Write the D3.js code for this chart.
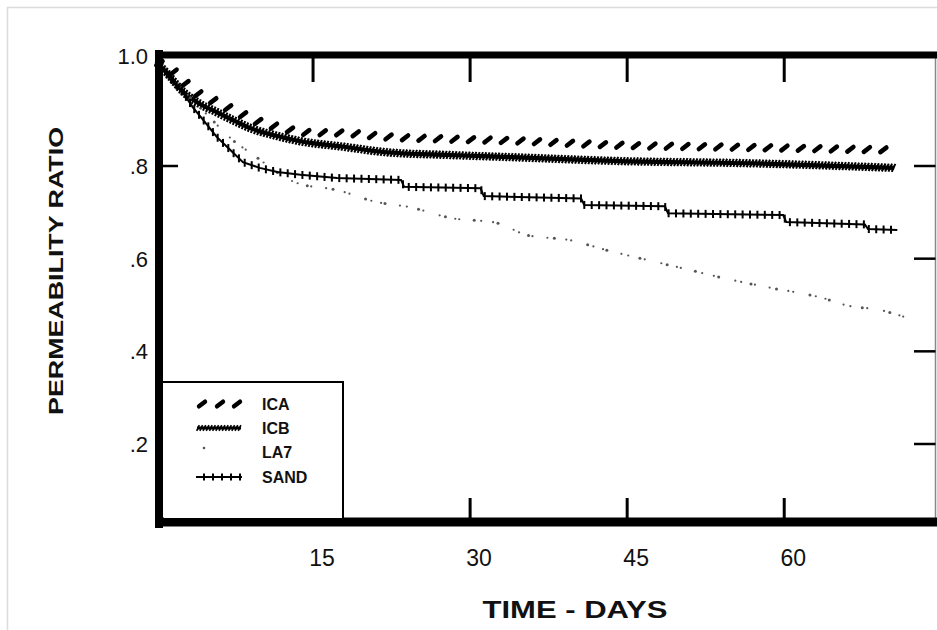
<!DOCTYPE html>
<html>
<head>
<meta charset="utf-8">
<script src="https://cdn.jsdelivr.net/npm/d3@7"></script>
<style>
  html, body { margin: 0; padding: 0; background: #fff; }
  svg { display: block; }
  text { fill: #111; }
</style>
</head>
<body>
<svg id="chart" width="937" height="630"></svg>
<script>
// Permeability ratio vs. time for four filter materials
const xTicks = [15, 30, 45, 60];
const yTicks = [0.2, 0.4, 0.6, 0.8, 1.0];
const yTickLabels = [".2", ".4", ".6", ".8", "1.0"];
const seriesNames = ["ICA", "ICB", "LA7", "SAND"];

const icaDays   = [0, 1.8, 3.5, 5.8, 7.8, 9.9, 12.1, 14.2, 17.9, 22, 28, 34, 44, 56, 70.5];
const icaRatio  = [0.99, 0.969, 0.938, 0.916, 0.898, 0.880, 0.869, 0.861, 0.860, 0.853, 0.849, 0.846, 0.838, 0.834, 0.829];

const icbDays   = [0, 1, 2.6, 4, 5.8, 7.5, 9, 11.5, 13.8, 17.9, 22, 28, 34, 44.3, 56.7, 70.5];
const icbRatio  = [0.99, 0.97, 0.935, 0.915, 0.898, 0.882, 0.869, 0.855, 0.845, 0.835, 0.825, 0.820, 0.816, 0.809, 0.805, 0.796];

const la7Days   = [0, 2.5, 5.2, 7.1, 9.3, 13.5, 17.3, 21.1, 24.3, 28.1, 32.6, 35.4, 39.5, 43.1, 47.9, 50.7, 54.6, 58.5, 63.7, 66.0, 69.2, 71.5];
const la7Ratio  = [0.99, 0.94, 0.887, 0.851, 0.820, 0.763, 0.748, 0.722, 0.711, 0.688, 0.677, 0.651, 0.640, 0.618, 0.592, 0.577, 0.556, 0.538, 0.515, 0.499, 0.489, 0.474];

const sandDays  = [0, 1.3, 2.6, 3.5, 4.5, 5.8, 7.1, 8.3, 9.9, 11.6, 13.8, 17.3, 23.4, 23.7, 31.0, 31.3, 40.6, 40.9, 48.6, 48.9, 59.9, 60.2, 67.7, 68.0, 70.8];
const sandRatio = [0.99, 0.96, 0.933, 0.907, 0.884, 0.853, 0.829, 0.807, 0.796, 0.787, 0.781, 0.774, 0.770, 0.755, 0.752, 0.735, 0.730, 0.716, 0.713, 0.698, 0.694, 0.679, 0.674, 0.664, 0.662];

const svg = d3.select("#chart");
svg.append("rect").attr("width", 937).attr("height", 630).attr("fill", "#fff");

// Scales: the ratio axis is stretched between .8 and 1.0 as on the original sheet
const x = d3.scaleLinear().domain([0, 74.4]).range([156, 935]);
const y = d3.scaleLinear().domain([0.2, 0.8, 1.0]).range([444, 166, 56]);

const plotLeft = 159, plotTop = 55, plotBottom = 522, plotRight = 935.5;

// faint page border
svg.append("path").attr("d", "M7.5,630 V7.5 H937").attr("fill", "none")
  .attr("stroke", "#dcdcdc").attr("stroke-width", 1.5);

const frame = svg.append("g").attr("stroke", "#000").attr("fill", "none");
frame.append("line").attr("x1", plotRight).attr("x2", plotRight).attr("y1", plotTop).attr("y2", plotBottom)
  .attr("stroke", "#888").attr("stroke-width", 1.5);
frame.append("line").attr("x1", plotLeft).attr("x2", 937).attr("y1", plotTop).attr("y2", plotTop).attr("stroke-width", 7);
frame.append("line").attr("x1", 155).attr("x2", 937).attr("y1", plotBottom).attr("y2", plotBottom).attr("stroke-width", 9);
frame.append("line").attr("x1", plotLeft).attr("x2", plotLeft).attr("y1", 50).attr("y2", 528).attr("stroke-width", 8);

// ticks
frame.selectAll(".tt").data(xTicks).join("line")
  .attr("x1", d => x(d)).attr("x2", d => x(d)).attr("y1", plotTop).attr("y2", plotTop + 27).attr("stroke-width", 3);
frame.selectAll(".bt").data(xTicks).join("line")
  .attr("x1", d => x(d)).attr("x2", d => x(d)).attr("y1", plotBottom).attr("y2", plotBottom - 24).attr("stroke-width", 3);
frame.selectAll(".rt").data(yTicks.filter(v => v < 1)).join("line")
  .attr("x1", 914).attr("x2", plotRight).attr("y1", d => y(d)).attr("y2", d => y(d)).attr("stroke-width", 2.5);
frame.append("line").attr("x1", plotLeft).attr("x2", plotLeft + 19).attr("y1", y(0.8)).attr("y2", y(0.8)).attr("stroke-width", 2.5);

// tick labels
svg.append("g").selectAll("text").data(yTicks).join("text")
  .attr("x", 148).attr("y", d => y(d) + 8)
  .attr("text-anchor", "end")
  .attr("font-family", "Liberation Sans, Arial, sans-serif").attr("font-size", 22)
  .text((d, i) => yTickLabels[i]);

svg.append("g").selectAll("text").data(xTicks).join("text")
  .attr("x", d => x(d) + 9).attr("y", 566)
  .attr("text-anchor", "middle")
  .attr("font-family", "Liberation Sans Narrow, Liberation Sans, sans-serif").attr("font-size", 23)
  .text(d => d);

// axis titles
svg.append("text").attr("x", 575).attr("y", 618).attr("text-anchor", "middle")
  .attr("font-family", "Liberation Sans, Arial, sans-serif").attr("font-weight", "bold").attr("font-size", 24)
  .attr("textLength", 185).attr("lengthAdjust", "spacingAndGlyphs")
  .text("TIME - DAYS");
svg.append("text").attr("transform", "translate(63,271) rotate(-90)").attr("text-anchor", "middle")
  .attr("font-family", "Liberation Sans, Arial, sans-serif").attr("font-weight", "bold").attr("font-size", 21)
  .attr("textLength", 288).attr("lengthAdjust", "spacingAndGlyphs")
  .text("PERMEABILITY RATIO");

// helpers to place glyphs along a drawn path
function pointsAlong(node, gaps, start) {
  const total = node.getTotalLength();
  const pts = [];
  let L = start, i = 0;
  while (L <= total) {
    pts.push(node.getPointAtLength(L));
    L += gaps[i % gaps.length];
    i++;
  }
  return pts;
}
const toPts = (days, vals) => days.map((d, i) => [x(d), y(vals[i])]);
const curveLine = d3.line().curve(d3.curveMonotoneX);
const straightLine = d3.line();

const marks = svg.append("g");

// ICA: slanted heavy dashes
const icaGuide = marks.append("path").attr("d", curveLine(toPts(icaDays, icaRatio)))
  .attr("fill", "none").attr("stroke", "none");
marks.append("g").selectAll("path").data(pointsAlong(icaGuide.node(), [16.5], 4)).join("path")
  .attr("transform", p => `translate(${p.x},${p.y})`)
  .attr("d", "M-3,2.3 L3,-2.3").attr("stroke", "#000").attr("stroke-width", 4.6).attr("stroke-linecap", "round");

// ICB: dense textured band
const icbGuide = marks.append("path").attr("d", curveLine(toPts(icbDays, icbRatio)))
  .attr("fill", "none").attr("stroke", "#000").attr("stroke-width", 4.2);
marks.append("g").selectAll("path").data(pointsAlong(icbGuide.node(), [3.3], 1)).join("path")
  .attr("transform", p => `translate(${p.x},${p.y})`)
  .attr("d", "M-1.8,4 L1.8,-4").attr("stroke", "#000").attr("stroke-width", 2);

// LA7: sparse fine dots
const la7Guide = marks.append("path").attr("d", curveLine(toPts(la7Days, la7Ratio)))
  .attr("fill", "none").attr("stroke", "none");
marks.append("g").selectAll("circle").data(pointsAlong(la7Guide.node(), [6, 10, 4, 15, 7, 12, 5, 17], 30)).join("circle")
  .attr("cx", p => p.x).attr("cy", p => p.y).attr("r", (p, i) => (i % 3 === 0 ? 1.5 : 1.1)).attr("fill", "#555");

// SAND: stepped line with cross ticks
const sandGuide = marks.append("path").attr("d", straightLine(toPts(sandDays, sandRatio)))
  .attr("fill", "none").attr("stroke", "#000").attr("stroke-width", 2);
marks.append("g").selectAll("path").data(pointsAlong(sandGuide.node(), [7.4], 2)).join("path")
  .attr("transform", p => `translate(${p.x},${p.y})`)
  .attr("d", "M0,-4 L0,4").attr("stroke", "#000").attr("stroke-width", 2);

// legend box
const lg = svg.append("g");
lg.append("rect").attr("x", 164).attr("y", 382).attr("width", 179).attr("height", 136).attr("fill", "#fff");
lg.append("path").attr("d", "M163,382 H343 V520").attr("fill", "none").attr("stroke", "#000").attr("stroke-width", 2);

const legendY = [404, 428, 452, 477];
lg.selectAll("text").data(seriesNames).join("text")
  .attr("x", 262).attr("y", (d, i) => legendY[i] + 6)
  .attr("font-family", "Liberation Sans, Arial, sans-serif").attr("font-weight", "bold").attr("font-size", 16)
  .text(d => d);

// legend samples
lg.append("g").selectAll("path").data([202, 220, 237]).join("path")
  .attr("transform", d => `translate(${d},${legendY[0]})`)
  .attr("d", "M-3,2.3 L3,-2.3").attr("stroke", "#000").attr("stroke-width", 4.4).attr("stroke-linecap", "round");
lg.append("line").attr("x1", 197).attr("x2", 241).attr("y1", legendY[1]).attr("y2", legendY[1])
  .attr("stroke", "#000").attr("stroke-width", 2.8);
lg.append("g").selectAll("path").data(d3.range(198, 241, 3.2)).join("path")
  .attr("transform", d => `translate(${d},${legendY[1]})`)
  .attr("d", "M-1.3,2.8 L1.3,-2.8").attr("stroke", "#000").attr("stroke-width", 1.6);
lg.append("circle").attr("cx", 204).attr("cy", legendY[2] - 4).attr("r", 1.3).attr("fill", "#555");
lg.append("line").attr("x1", 196).attr("x2", 242).attr("y1", legendY[3]).attr("y2", legendY[3])
  .attr("stroke", "#000").attr("stroke-width", 2);
lg.append("g").selectAll("path").data([204, 213, 222, 231, 240]).join("path")
  .attr("transform", d => `translate(${d},${legendY[3]})`)
  .attr("d", "M0,-3.5 L0,3.5").attr("stroke", "#000").attr("stroke-width", 2);
</script>
</body>
</html>
